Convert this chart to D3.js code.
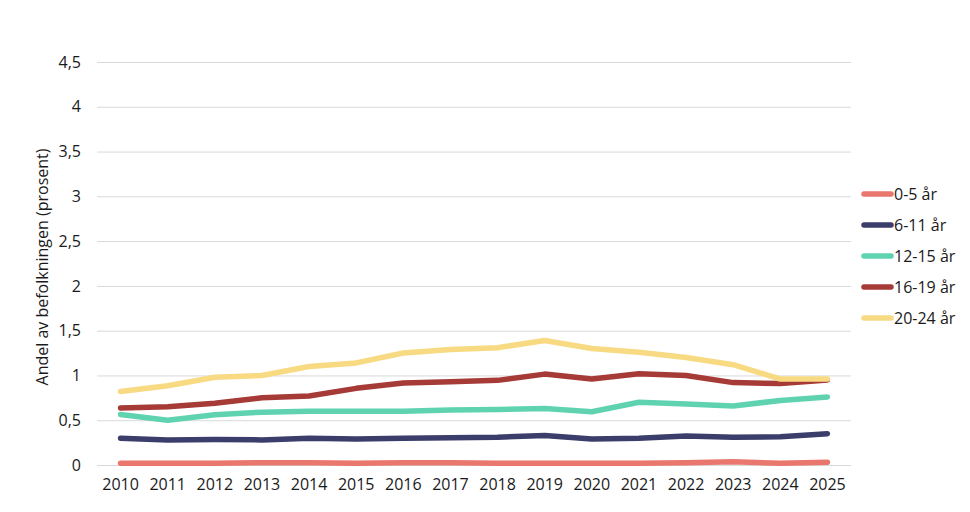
<!DOCTYPE html>
<html>
<head>
<meta charset="utf-8">
<script src="https://cdn.jsdelivr.net/npm/d3@7"></script>
<style>
  body { margin: 0; background: #fff; }
  svg text { font-family: "Open Sans", "Noto Sans", sans-serif; fill: #1a1a1a; }
</style>
</head>
<body>
<svg id="chart" width="970" height="512"></svg>
<script>
// Andel av befolkningen per aldersgruppe, 2010-2025
var years = ['2010', '2011', '2012', '2013', '2014', '2015', '2016', '2017',
             '2018', '2019', '2020', '2021', '2022', '2023', '2024', '2025'];
var yTicks = [0, 0.5, 1, 1.5, 2, 2.5, 3, 3.5, 4, 4.5];

var names = ['0-5 år', '6-11 år', '12-15 år', '16-19 år', '20-24 år'];
var colors = ['#e9776d', '#3b3d6b', '#5fd3b0', '#a53a36', '#f8da82'];

var age0_5   = [0.02, 0.02, 0.02, 0.025, 0.025, 0.02, 0.025, 0.025, 0.02, 0.02, 0.02, 0.02, 0.025, 0.035, 0.02, 0.03];
var age6_11  = [0.30, 0.28, 0.285, 0.28, 0.30, 0.29, 0.30, 0.305, 0.31, 0.33, 0.29, 0.30, 0.325, 0.31, 0.315, 0.35];
var age12_15 = [0.565, 0.50, 0.56, 0.59, 0.60, 0.60, 0.60, 0.615, 0.62, 0.63, 0.595, 0.70, 0.68, 0.66, 0.72, 0.76];
var age16_19 = [0.636, 0.65, 0.69, 0.75, 0.77, 0.856, 0.915, 0.93, 0.945, 1.015, 0.96, 1.02, 1.0, 0.92, 0.91, 0.95];
var age20_24 = [0.82, 0.885, 0.98, 1.0, 1.10, 1.14, 1.25, 1.29, 1.31, 1.39, 1.30, 1.26, 1.20, 1.12, 0.96, 0.96];

var series = [age0_5, age6_11, age12_15, age16_19, age20_24];

var svg = d3.select('#chart');
var margin = { left: 97, right: 119, top: 62, bottom: 47 };
var width = 970, height = 512;

var x = d3.scaleBand()
  .domain(years)
  .range([margin.left, width - margin.right]);

var y = d3.scaleLinear()
  .domain([0, 4.5])
  .range([height - margin.bottom, margin.top]);

var fmt = function(d) { return String(d).replace('.', ','); };

// Gridlines
svg.append('g')
  .selectAll('line')
  .data(yTicks)
  .enter().append('line')
    .attr('x1', margin.left)
    .attr('x2', width - margin.right)
    .attr('y1', function(d) { return y(d) + 0.5; })
    .attr('y2', function(d) { return y(d) + 0.5; })
    .attr('stroke', '#d9d9d9')
    .attr('stroke-width', 1);

// Y axis labels
var yAxis = svg.append('g')
  .attr('transform', 'translate(' + margin.left + ',0)')
  .call(d3.axisLeft(y).tickValues(yTicks).tickFormat(fmt).tickSize(0).tickPadding(16));
yAxis.select('.domain').remove();
yAxis.selectAll('text')
  .style('font-size', '16px')
  .style('font-family', '"Open Sans", "Noto Sans", sans-serif')
  .attr('fill', '#1a1a1a');

// X axis labels
var xAxis = svg.append('g')
  .attr('transform', 'translate(0,' + (height - margin.bottom) + ')')
  .call(d3.axisBottom(x).tickSize(0).tickPadding(14));
xAxis.select('.domain').remove();
xAxis.selectAll('text')
  .style('font-size', '16px')
  .style('font-family', '"Open Sans", "Noto Sans", sans-serif')
  .attr('fill', '#1a1a1a');

// Y axis title
svg.append('text')
  .attr('transform', 'translate(48,' + 267 + ') rotate(-90)')
  .attr('text-anchor', 'middle')
  .style('font-size', '16px')
  .text('Andel av befolkningen (prosent)');

// Lines
var line = d3.line()
  .x(function(d, i) { return x(years[i]) + x.bandwidth() / 2; })
  .y(function(d) { return y(d); })
  .curve(d3.curveLinear);

svg.append('g')
  .selectAll('path')
  .data(series)
  .enter().append('path')
    .attr('d', line)
    .attr('fill', 'none')
    .attr('stroke', function(d, i) { return colors[i]; })
    .attr('stroke-width', 5.5)
    .attr('stroke-linejoin', 'round')
    .attr('stroke-linecap', 'round');

// Legend
var legend = svg.append('g')
  .attr('transform', 'translate(864,194)');
var item = legend.selectAll('g')
  .data(names)
  .enter().append('g')
    .attr('transform', function(d, i) { return 'translate(0,' + (i * 31) + ')'; });
item.append('line')
  .attr('x1', 0).attr('x2', 27)
  .attr('stroke', function(d, i) { return colors[i]; })
  .attr('stroke-width', 5.5)
  .attr('stroke-linecap', 'round');
item.append('text')
  .attr('x', 30)
  .attr('dy', '0.35em')
  .style('font-size', '16px')
  .text(function(d) { return d; });
</script>
</body>
</html>
